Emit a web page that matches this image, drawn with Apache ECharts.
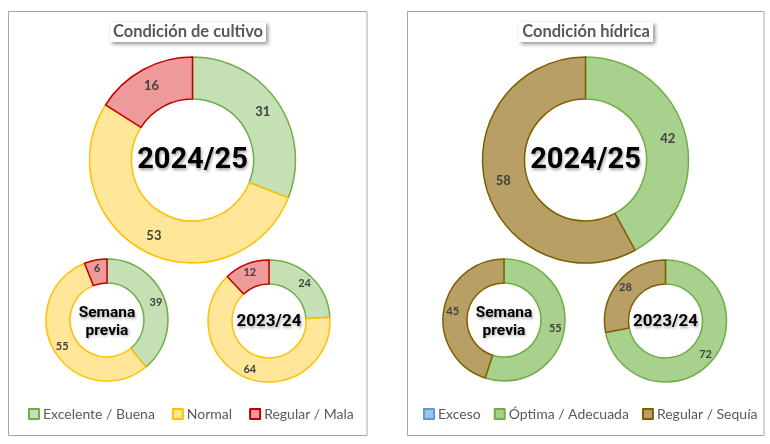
<!DOCTYPE html>
<html><head><meta charset="utf-8">
<script src="https://cdn.jsdelivr.net/npm/echarts@6/dist/echarts.min.js"></script>
<style>html,body{margin:0;padding:0;background:#fff}#c{width:770px;height:444px}</style>
</head><body><div id="c"></div>
<script>
const cultivoCats = ['Excelente / Buena', 'Normal', 'Regular / Mala'];
const cultivoActual = [31, 53, 16];
const cultivoPrevia = [39, 55, 6];
const cultivoAnterior = [24, 64, 12];
const hidricaCats = ['Exceso', 'Óptima / Adecuada', 'Regular / Sequía'];
const hidricaActual = [0, 42, 58];
const hidricaPrevia = [0, 55, 45];
const hidricaAnterior = [0, 72, 28];
const titles = ['Condición de cultivo', 'Condición hídrica'];
const centerLabels = ['2024/25', 'Semana\nprevia', '2023/24'];

const cultivoFill = ['#C5E0B4', '#FFE699', '#EE9A9A'];
const cultivoBorder = ['#70AD47', '#FFC000', '#C00000'];
const hidricaFill = ['#9DC3E6', '#A9D18E', '#B89F65'];
const hidricaBorder = ['#5B9BD5', '#70AD47', '#7F6000'];

const FONT = 'Lato, "Open Sans", sans-serif';
const CFONT = 'Roboto, "DejaVu Sans Condensed", sans-serif';

function makeData(cats, vals, fill, border) {
  return cats.map((c, i) => ({
    name: c, value: vals[i],
    itemStyle: { color: fill[i], borderColor: border[i], borderWidth: 1.5 }
  }));
}
function pie(cats, vals, fill, border, center, radius, fs) {
  return {
    type: 'pie', center: center, radius: radius, startAngle: 90, clockwise: true,
    animation: false, silent: true,
    label: { show: true, position: 'inside', color: '#404040', fontFamily: FONT, fontWeight: 'bold', fontSize: fs,
      formatter: p => p.value === 0 ? '' : String(p.value) },
    labelLine: { show: false },
    data: makeData(cats, vals, fill, border)
  };
}
function centerText(text, x, y, size, lh) {
  return { type: 'text', x: x, y: y, z: 100,
    style: { text: text, fill: '#000', font: 'bold ' + size + 'px ' + CFONT, align: 'center', verticalAlign: 'middle',
      lineHeight: lh || size, textShadowColor: 'rgba(0,0,0,0.35)', textShadowBlur: 3, textShadowOffsetX: 1, textShadowOffsetY: 1.5 } };
}
function titleBox(text, cx, x0, x1) {
  return [
    { type: 'rect', shape: { x: x0, y: 22, width: x1 - x0, height: 20 }, z: 50,
      style: { fill: '#fff', shadowBlur: 4, shadowColor: 'rgba(0,0,0,0.45)', shadowOffsetX: 1.5, shadowOffsetY: 2 } },
    { type: 'text', x: cx, y: 32, z: 51,
      style: { text: text, fill: '#595959', font: 'bold 16.5px ' + FONT, align: 'center', verticalAlign: 'middle' } }
  ];
}
function legend(cats, left, gap) {
  return { data: cats, left: left, top: 407, padding: 0, width: 360, orient: 'horizontal',
    itemWidth: 10, itemHeight: 10, itemGap: gap, icon: 'rect', selectedMode: false,
    textStyle: { fontFamily: FONT, fontSize: 14, color: '#595959', padding: [0, 0, 0, -1] } };
}

const chart = echarts.init(document.getElementById('c'), null, { renderer: 'canvas' });
chart.setOption({
  backgroundColor: '#fff',
  animation: false,
  graphic: [
    { type: 'rect', shape: { x: 8.5, y: 11.5, width: 358.5, height: 424 }, z: 0, style: { fill: 'none', stroke: '#A6A6A6', lineWidth: 1 } },
    { type: 'rect', shape: { x: 407.5, y: 11.5, width: 356.5, height: 424 }, z: 0, style: { fill: 'none', stroke: '#A6A6A6', lineWidth: 1 } },
    ...titleBox(titles[0], 188, 110, 266),
    ...titleBox(titles[1], 586, 519, 653),
    centerText(centerLabels[0], 192.5, 161, 29),
    centerText(centerLabels[1], 107, 322, 15.5, 17.5),
    centerText(centerLabels[2], 269, 322, 17),
    centerText(centerLabels[0], 585.5, 161, 29),
    centerText(centerLabels[1], 504, 322, 15.5, 17.5),
    centerText(centerLabels[2], 665.5, 322, 17)
  ],
  legend: [
    legend(cultivoCats, 28, 17),
    legend(hidricaCats, 423, 13)
  ],
  series: [
    pie(cultivoCats, cultivoActual, cultivoFill, cultivoBorder, [192.5, 160], [61, 103], 13),
    pie(cultivoCats, cultivoPrevia, cultivoFill, cultivoBorder, [107, 320], [37, 61], 11),
    pie(cultivoCats, cultivoAnterior, cultivoFill, cultivoBorder, [269, 321], [37, 61], 11),
    pie(hidricaCats, hidricaActual, hidricaFill, hidricaBorder, [585.5, 160], [61, 103], 13),
    pie(hidricaCats, hidricaPrevia, hidricaFill, hidricaBorder, [504, 320], [37, 61], 11),
    pie(hidricaCats, hidricaAnterior, hidricaFill, hidricaBorder, [665.5, 321], [37, 61], 11)
  ]
});
</script></body></html>
